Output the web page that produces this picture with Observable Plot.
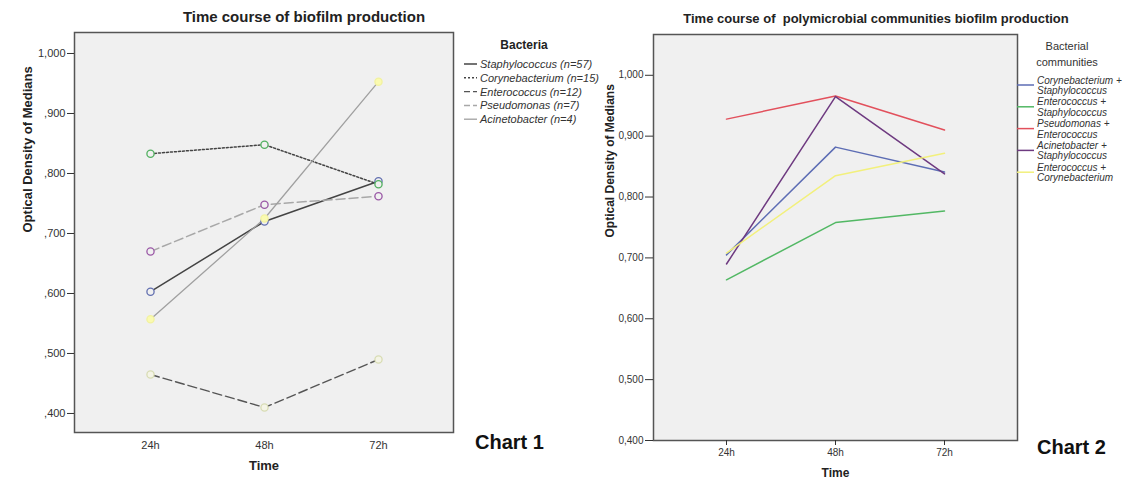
<!DOCTYPE html>
<html>
<head>
<meta charset="utf-8">
<script src="https://cdn.jsdelivr.net/npm/d3@7"></script>
<script src="https://cdn.jsdelivr.net/npm/@observablehq/plot@0.6"></script>
<style>
  html, body { margin: 0; padding: 0; background: #fff; }
  #root { position: relative; width: 1128px; height: 480px; overflow: hidden; font-family: "Liberation Sans", Arial, sans-serif; }
  #root > * { position: absolute; top: 0; }
</style>
</head>
<body>
<div id="root"></div>
<script>
// ---------- Data ----------
const times = ["24h", "48h", "72h"];

// Chart 1: single bacteria
const bacteria = ["Staphylococcus (n=57)", "Corynebacterium (n=15)", "Enterococcus (n=12)", "Pseudomonas (n=7)", "Acinetobacter (n=4)"];
const staphylococcus = [0.603, 0.720, 0.787];
const corynebacterium = [0.833, 0.848, 0.782];
const enterococcus = [0.465, 0.410, 0.490];
const pseudomonas = [0.670, 0.748, 0.762];
const acinetobacter = [0.557, 0.725, 0.953];
const yTicks1 = [0.4, 0.5, 0.6, 0.7, 0.8, 0.9, 1.0];

// Chart 2: polymicrobial communities
const communities = [
  ["Corynebacterium +", "Staphylococcus"],
  ["Enterococcus +", "Staphylococcus"],
  ["Pseudomonas +", "Enterococcus"],
  ["Acinetobacter +", "Staphylococcus"],
  ["Enterococcus +", "Corynebacterium"]
];
const corySta = [0.705, 0.882, 0.841];
const entSta = [0.664, 0.758, 0.777];
const pseEnt = [0.928, 0.966, 0.910];
const aciSta = [0.690, 0.965, 0.838];
const entCor = [0.708, 0.835, 0.872];
const yTicks2 = [0.4, 0.5, 0.6, 0.7, 0.8, 0.9, 1.0];

// ---------- Styles ----------
const styles1 = [
  {stroke: "#444", width: 1.5, dash: null, dot: "#6370b0", fill: "#f0f0f0"},
  {stroke: "#444", width: 1.5, dash: "2,2", dot: "#52b060", fill: "#f0f0f0"},
  {stroke: "#555", width: 1.4, dash: "9,4", dot: "#d8dcb4", fill: "#f4f4e6"},
  {stroke: "#a8a8a8", width: 1.5, dash: "9,4", dot: "#9a58a6", fill: "#f0f0f0"},
  {stroke: "#a0a0a0", width: 1.3, dash: null, dot: "#f2f2a0", fill: "#fafab0"}
];
const colors2 = ["#5d6db4", "#52b864", "#e2505c", "#6e3a80", "#f2f07c"];

const root = document.getElementById("root");
const FONT = '"Liberation Sans", Arial, sans-serif';

// ---------- Chart 1 ----------
const series1 = [staphylococcus, corynebacterium, enterococcus, pseudomonas, acinetobacter];
const marks1 = [Plot.frame({fill: "#f0f0f0", stroke: null})];
series1.forEach((vals, i) => {
  const s = styles1[i];
  const data = times.map((t, j) => ({t, v: vals[j]}));
  marks1.push(Plot.line(data, {x: "t", y: "v", curve: "linear", stroke: s.stroke, strokeWidth: s.width, strokeDasharray: s.dash}));
});
series1.forEach((vals, i) => {
  const s = styles1[i];
  const data = times.map((t, j) => ({t, v: vals[j]}));
  marks1.push(Plot.dot(data, {x: "t", y: "v", r: 3.6, stroke: s.dot, strokeWidth: 1.3, fill: s.fill}));
});
marks1.push(
  Plot.frame({stroke: "#555", strokeWidth: 1.5}),
  Plot.axisY({ticks: yTicks1, tickSize: 7, tickPadding: 2, fontSize: 11, label: null,
    tickFormat: d => d3.format(".3f")(d).replace(".", ",").replace(/^0/, "")}),
  Plot.axisX({tickSize: 0, tickPadding: 9, fontSize: 11, label: null}),
  Plot.text(["Optical Density of Medians"], {text: d => d, frameAnchor: "left", dx: -47, rotate: -90, fontWeight: "bold", fontSize: 13, fill: "#222"}),
  Plot.text(["Time"], {text: d => d, frameAnchor: "bottom", dy: 37, fontWeight: "bold", fontSize: 13, fill: "#222"})
);
const chart1 = Plot.plot({
  width: 590, height: 480,
  marginLeft: 74, marginRight: 137, marginTop: 32, marginBottom: 48,
  style: {background: "transparent", color: "#333", fontFamily: FONT},
  x: {type: "point", domain: times, padding: 0.66},
  y: {domain: [0.3683, 1.035]},
  marks: marks1
});
chart1.style.left = "0px";
root.appendChild(chart1);

// ---------- Chart 2 ----------
const series2 = [corySta, entSta, pseEnt, aciSta, entCor];
const marks2 = [Plot.frame({fill: "#f0f0f0", stroke: null})];
series2.forEach((vals, i) => {
  const data = times.map((t, j) => ({t, v: vals[j]}));
  marks2.push(Plot.line(data, {x: "t", y: "v", curve: "linear", stroke: colors2[i], strokeWidth: 1.5}));
});
marks2.push(
  Plot.frame({stroke: "#555", strokeWidth: 1.5}),
  Plot.axisY({ticks: yTicks2, tickSize: 8, tickPadding: 2, fontSize: 10, label: null,
    tickFormat: d => d3.format(".3f")(d).replace(".", ",")}),
  Plot.axisX({tickSize: 5, tickPadding: 3, fontSize: 10, label: null}),
  Plot.text(["Optical Density of Medians"], {text: d => d, frameAnchor: "left", dx: -43, rotate: -90, fontWeight: "bold", fontSize: 12, fill: "#222"}),
  Plot.text(["Time"], {text: d => d, frameAnchor: "bottom", dy: 36, fontWeight: "bold", fontSize: 12, fill: "#222"})
);
const chart2 = Plot.plot({
  width: 538, height: 480,
  marginLeft: 63, marginRight: 111, marginTop: 34, marginBottom: 40,
  style: {background: "transparent", color: "#333", fontFamily: FONT},
  x: {type: "point", domain: times, padding: 0.66},
  y: {domain: [0.4, 1.067]},
  marks: marks2
});
chart2.style.left = "590px";
root.appendChild(chart2);

// ---------- Overlay: titles, legends, chart labels ----------
const svg = d3.select(root).append("svg")
  .attr("width", 1128).attr("height", 480)
  .style("left", "0px").style("pointer-events", "none")
  .attr("font-family", FONT);

svg.append("text").attr("x", 304).attr("y", 22).attr("text-anchor", "middle")
  .attr("font-size", 15).attr("font-weight", "bold").attr("fill", "#222")
  .text("Time course of biofilm production");
svg.append("text").attr("x", 876).attr("y", 23).attr("text-anchor", "middle")
  .attr("font-size", 13).attr("font-weight", "bold").attr("fill", "#222")
  .attr("xml:space", "preserve").style("white-space", "pre")
  .text("Time course of  polymicrobial communities biofilm production");

// Legend 1
svg.append("text").attr("x", 524).attr("y", 49).attr("text-anchor", "middle")
  .attr("font-size", 12).attr("font-weight", "bold").attr("fill", "#222").text("Bacteria");
bacteria.forEach((name, i) => {
  const y = 64 + i * 13.8;
  const s = styles1[i];
  svg.append("line").attr("x1", 464).attr("x2", 477).attr("y1", y).attr("y2", y)
    .attr("stroke", s.stroke).attr("stroke-width", s.width)
    .attr("stroke-dasharray", s.dash ? (s.dash === "2,2" ? "2,2" : "6,3") : null);
  svg.append("text").attr("x", 480).attr("y", y + 4).attr("font-size", 11)
    .attr("font-style", "italic").attr("fill", "#333").text(name);
});

// Legend 2
svg.append("text").attr("x", 1067).attr("y", 50).attr("text-anchor", "middle")
  .attr("font-size", 11).attr("fill", "#333").text("Bacterial");
svg.append("text").attr("x", 1067).attr("y", 66).attr("text-anchor", "middle")
  .attr("font-size", 11).attr("fill", "#333").text("communities");
communities.forEach((lines, i) => {
  const y = 80 + i * 21.8;
  svg.append("line").attr("x1", 1017).attr("x2", 1034).attr("y1", y + 5).attr("y2", y + 5)
    .attr("stroke", colors2[i]).attr("stroke-width", 1.5);
  lines.forEach((ln, k) => {
    svg.append("text").attr("x", 1037).attr("y", y + 3.5 + k * 10.5).attr("font-size", 10)
      .attr("font-style", "italic").attr("fill", "#333").text(ln);
  });
});

// Chart labels
svg.append("text").attr("x", 475).attr("y", 449).attr("font-size", 20)
  .attr("font-weight", "bold").attr("fill", "#111").text("Chart 1");
svg.append("text").attr("x", 1037).attr("y", 454).attr("font-size", 20)
  .attr("font-weight", "bold").attr("fill", "#111").text("Chart 2");
</script>
</body>
</html>
